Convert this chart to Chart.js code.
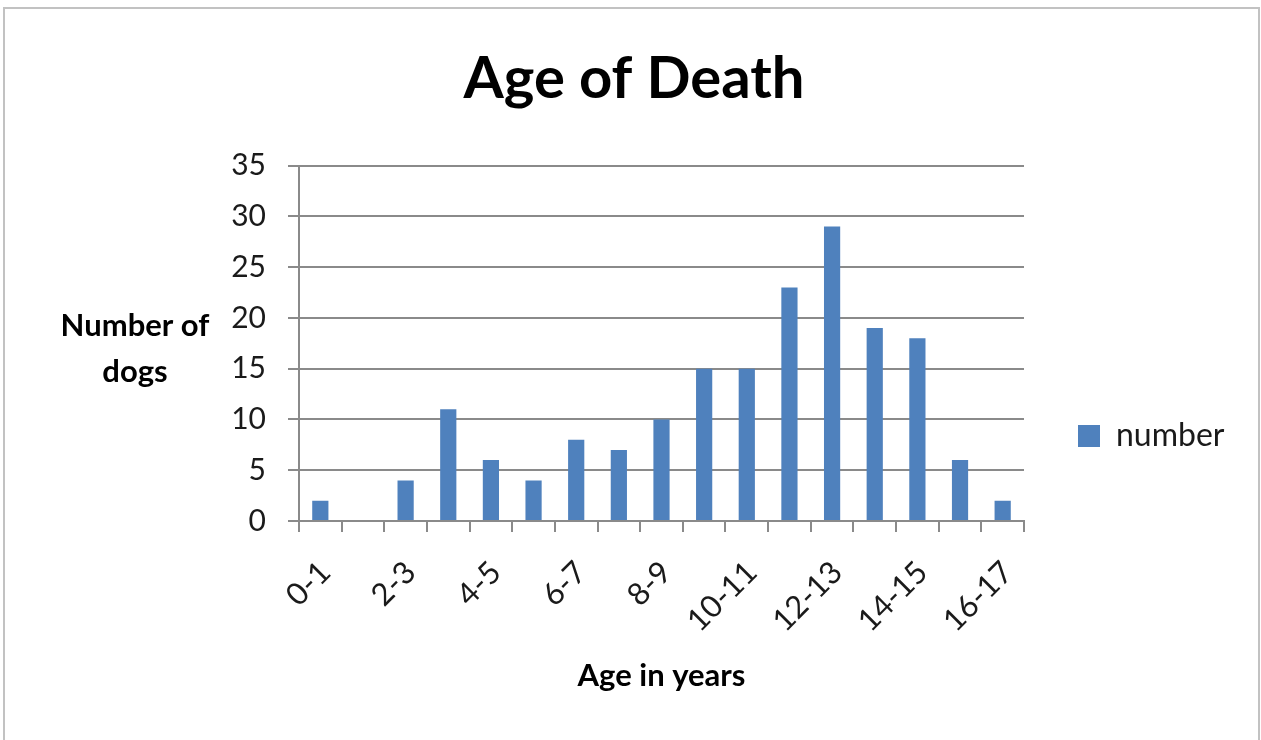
<!DOCTYPE html>
<html>
<head>
<meta charset="utf-8">
<script src="https://cdn.jsdelivr.net/npm/chart.js@4/dist/chart.umd.min.js"></script>
<style>
  html, body { margin: 0; padding: 0; background: #fff; overflow: hidden; }
  #wrap { position: relative; width: 1261px; height: 740px; }
  #frame { position: absolute; left: 3px; top: 7px; width: 1253px; height: 800px;
           border: 2px solid #c2c2c2; pointer-events: none; }
  canvas { position: absolute; left: 0; top: 0; }
</style>
</head>
<body>
<div id="wrap">
  <canvas id="c" width="1261" height="740"></canvas>
  <div id="frame"></div>
</div>
<script>
const categories = ['0-1','1-2','2-3','3-4','4-5','5-6','6-7','7-8','8-9','9-10','10-11','11-12','12-13','13-14','14-15','15-16','16-17'];
const numberOfDogs = [2, 0, 4, 11, 6, 4, 8, 7, 10, 15, 15, 23, 29, 19, 18, 6, 2];
const yTicks = [0, 5, 10, 15, 20, 25, 30, 35];
const seriesName = 'number';
const chartTitle = 'Age of Death';
const xTitle = 'Age in years';
const yTitleLines = ['Number of', 'dogs'];

const FONT = 'Lato, "Open Sans", sans-serif';
const GRID = '#8a8a8a';

const yTitlePlugin = {
  id: 'yTitle',
  afterDraw(chart) {
    const { ctx, chartArea } = chart;
    ctx.save();
    ctx.font = 'bold 31px ' + FONT;
    ctx.fillStyle = '#000';
    ctx.textAlign = 'center';
    ctx.textBaseline = 'middle';
    const cx = chartArea.left - 164;
    const cy = (chartArea.top + chartArea.bottom) / 2 + 6;
    const lh = 46;
    yTitleLines.forEach((t, i) => {
      ctx.fillText(t, cx, cy + (i - (yTitleLines.length - 1) / 2) * lh);
    });
    ctx.restore();
  }
};

new Chart(document.getElementById('c'), {
  type: 'bar',
  data: {
    labels: categories,
    datasets: [{
      label: seriesName,
      data: numberOfDogs,
      backgroundColor: '#4F81BD',
      borderWidth: 0,
      categoryPercentage: 1.0,
      barPercentage: 0.38
    }]
  },
  options: {
    responsive: false,
    animation: false,
    layout: { padding: { left: 7, right: 0, top: 0, bottom: 0 } },
    plugins: {
      title: {
        display: true,
        text: chartTitle,
        color: '#000',
        font: { family: FONT, size: 58, weight: 'bold', lineHeight: 1.2 },
        padding: { top: 44, bottom: 52 }
      },
      legend: {
        display: true,
        position: 'right',
        align: 'center',
        title: { display: true, text: '', font: { size: 12, lineHeight: 1.2 }, padding: { top: 0, bottom: 117.6 } },
        labels: {
          boxWidth: 22,
          boxHeight: 22,
          padding: 54,
          color: '#1a1a1a',
          font: { family: FONT, size: 32 }
        }
      },
      tooltip: { enabled: false }
    },
    scales: {
      x: {
        grid: { display: true, drawOnChartArea: false, drawTicks: true, tickLength: 11, color: GRID, lineWidth: 2 },
        border: { display: true, color: GRID, width: 2 },
        ticks: {
          autoSkip: false,
          maxRotation: 45,
          minRotation: 45,
          padding: 22,
          labelOffset: 5,
          color: '#1a1a1a',
          font: { family: FONT, size: 31 },
          callback: function(v, i) { return i % 2 === 0 ? categories[i] : ''; }
        },
        title: {
          display: true,
          text: xTitle,
          color: '#000',
          font: { family: FONT, size: 31, weight: 'bold', lineHeight: 1.2 },
          padding: { top: 0, bottom: 45 }
        },
        afterFit(s) { s.height = 219; s.paddingRight = Math.max(s.paddingRight || 0, 1261 - 1024); }
      },
      y: {
        min: 0,
        max: 35,
        afterBuildTicks(s) { s.ticks = yTicks.map(v => ({ value: v })); },
        grid: { color: GRID, lineWidth: 2, drawTicks: true, tickLength: 11 },
        border: { display: true, color: GRID, width: 2 },
        ticks: {
          padding: 22,
          color: '#1a1a1a',
          font: { family: FONT, size: 30 }
        },
        afterFit(s) { s.width = 292; }
      }
    }
  },
  plugins: [yTitlePlugin]
});
</script>
</body>
</html>
